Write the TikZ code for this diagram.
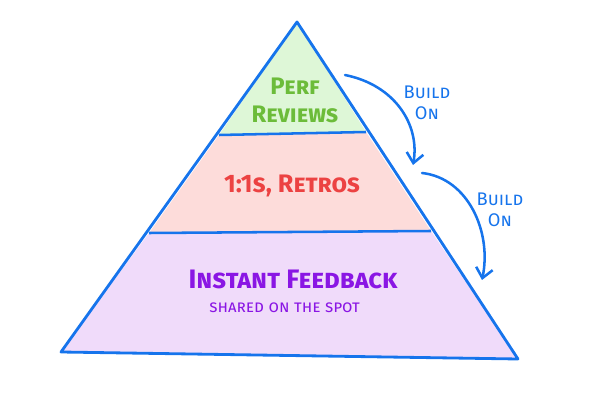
\documentclass[tikz,border=0pt]{standalone}
\usepackage{fontspec}
\setmainfont{Fira Sans}
\usepackage{tikz}
\usetikzlibrary{positioning,calc,arrows.meta}

\definecolor{lineblue}{RGB}{22,116,236}
\definecolor{perffill}{RGB}{222,247,215}
\definecolor{perftext}{RGB}{108,188,58}
\definecolor{onefill}{RGB}{253,220,218}
\definecolor{onetext}{RGB}{236,66,66}
\definecolor{instfill}{RGB}{240,219,250}
\definecolor{insttext}{RGB}{138,22,228}

\tikzset{
    layertext/.style={font=\fontsize{17}{18}\selectfont\bfseries\scshape, align=center},
    buildlabel/.style={font=\fontsize{13}{14}\selectfont\scshape, align=center, text=lineblue},
    buildarrow/.style={-{Straight Barb[length=7pt,width=12pt]}, lineblue, line width=1.8pt, line cap=round},
}

\begin{document}
\begin{tikzpicture}[x=0.025cm, y=-0.025cm, line join=round]
    \useasboundingbox (0,0) rectangle (600,400);

    % corners of the pyramid
    \coordinate (apex) at (297,22);
    \coordinate (base-l) at (61,352);
    \coordinate (base-r) at (518,359);
    \coordinate (cut1-l) at (219,135);
    \coordinate (cut1-r) at (366,132);
    \coordinate (cut2-l) at (149,233);
    \coordinate (cut2-r) at (431,231);

    % layers
    \fill[perffill] (apex) -- (cut1-r) -- (cut1-l) -- cycle;
    \fill[onefill] (cut1-l) -- (cut1-r) -- (cut2-r) -- (cut2-l) -- cycle;
    \fill[instfill] (cut2-l) -- (cut2-r) -- (base-r) -- (base-l) -- cycle;

    % outline and cuts
    \draw[lineblue, line width=2pt] (apex) -- (base-r) -- (base-l) -- cycle;
    \foreach \c in {cut1, cut2}{
        \draw[lineblue, line width=1.8pt] (\c-l) -- (\c-r);
    }

    % texts of the layers
    \node[layertext, text=perftext] (perf) at (295,100) {Perf\\[2pt]Reviews};
    \node[layertext, text=onetext, font=\fontsize{18}{20}\selectfont\bfseries\scshape] (retros) at (292,186) {1:1s, Retros};
    \node[layertext, text=insttext, font=\fontsize{19}{20}\selectfont\bfseries\scshape] (instant) at (293,279) {Instant Feedback};
    \node[font=\fontsize{12}{13}\selectfont\scshape, text=insttext, below=3pt of instant, xshift=-6pt] (spot) {shared on the spot};

    % build on arrows
    \coordinate (arr1-s) at (345,75);
    \coordinate (arr1-e) at (413,165);
    \coordinate (arr2-s) at (422,173);
    \coordinate (arr2-e) at (482,280);
    \draw[buildarrow] (arr1-s) .. controls (395,85) and (420,125) .. (arr1-e);
    \draw[buildarrow] (arr2-s) .. controls (468,178) and (492,232) .. (arr2-e);
    \node[buildlabel] (build1) at (427,103) {Build\\[1pt]On};
    \node[buildlabel] (build2) at (500,210) {Build\\[1pt]On};
\end{tikzpicture}
\end{document}
